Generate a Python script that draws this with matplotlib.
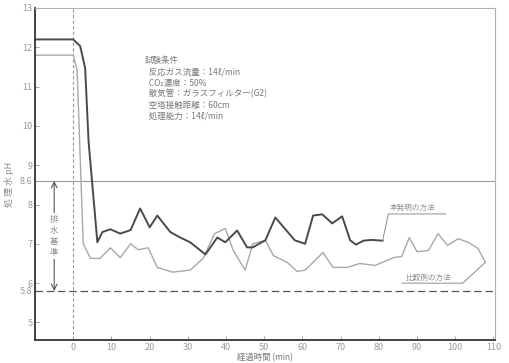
import matplotlib
matplotlib.use("Agg")
import matplotlib.pyplot as plt

plt.rcParams['font.family'] = ['Noto Sans CJK JP', 'DejaVu Sans']

# elapsed time (min) and treated-water pH for the two methods
t_inv = [-10, 0, 1.8, 3.1, 4.0, 6.3, 7.6, 9.7, 12.3, 15, 17.5, 20, 22, 25.4, 28,
         30.6, 34.6, 37.7, 39.8, 42.9, 45.5, 47, 50.3, 52.9, 58, 60.7, 62.8,
         65.2, 67.8, 70.4, 72.5, 74, 76, 78, 81]
ph_inv = [12.2, 12.2, 12.03, 11.47, 9.6, 7.04, 7.3, 7.37, 7.26, 7.35, 7.9, 7.42,
          7.72, 7.3, 7.16, 7.04, 6.73, 7.16, 7.04, 7.34, 6.91, 6.91, 7.09, 7.67,
          7.09, 7.0, 7.72, 7.75, 7.52, 7.7, 7.09, 6.98, 7.08, 7.1, 7.08]

t_cmp = [-10, 0, 1.0, 2.6, 4.5, 7, 9.7, 12.3, 15, 17, 19.6, 22, 26, 30.6, 34,
         37, 39.8, 41.9, 45, 47, 50.3, 52.4, 56, 58.6, 60.7, 65.4, 68, 71.7,
         75, 79, 81, 84, 86, 88, 90, 93, 95.5, 98, 100.8, 103.4, 106, 107.9]
ph_cmp = [11.8, 11.8, 11.4, 7.0, 6.63, 6.63, 6.9, 6.65, 7.0, 6.85, 6.9, 6.4,
          6.28, 6.33, 6.63, 7.26, 7.39, 6.83, 6.33, 7.0, 7.09, 6.7, 6.53, 6.3,
          6.33, 6.78, 6.4, 6.4, 6.5, 6.45, 6.53, 6.65, 6.68, 7.16, 6.8, 6.83,
          7.26, 6.96, 7.13, 7.04, 6.88, 6.53]

std_hi, std_lo = 8.6, 5.8
y_ticks = [5, 6, 7, 8, 9, 10, 11, 12, 13]
x_ticks = list(range(0, 111, 10))

conditions = [
    "試験条件",
    "  反応ガス流量：14ℓ/min",
    "  CO₂濃度：50%",
    "  散気管：ガラスフィルター(G2)",
    "  空塔接触距離：60cm",
    "  処理能力：14ℓ/min",
]

ink = "#4a4a4a"
pale = "#8c8c8c"

fig = plt.figure(figsize=(5.09, 3.63), dpi=100)
ax = fig.add_axes([0.069, 0.063, 0.904, 0.915])
ax.set_xlim(-10, 110.5)
ax.set_ylim(4.55, 13)

for s in ["left", "bottom"]:
    ax.spines[s].set_color("#333333")
    ax.spines[s].set_linewidth(1.3)
for s in ["top", "right"]:
    ax.spines[s].set_color("#b0b0b0")
    ax.spines[s].set_linewidth(0.8)

ax.set_xticks(x_ticks)
ax.set_yticks(y_ticks + [std_hi, std_lo])
ax.set_yticklabels([str(v) for v in y_ticks] + ["8.6", "5.8"])
ax.tick_params(axis="both", direction="in", length=3, width=0.6,
               colors="#9a9a9a", labelsize=6.5, labelcolor="#9a9a9a", pad=2)

# start line and discharge-standard limits
ax.axvline(0, color="#9a9a9a", lw=0.8, ls=(0, (3, 2)))
ax.axhline(std_hi, color="#9a9a9a", lw=0.8)
ax.axhline(std_lo, color="#555555", lw=0.9, ls=(0, (6, 3)))

ax.plot(t_cmp, ph_cmp, color="#a8a8a8", lw=1.0)
ax.plot(t_inv, ph_inv, color=ink, lw=1.4)

ax.annotate("", xy=(-5, std_hi), xytext=(-5, std_lo),
            arrowprops=dict(arrowstyle="<->", color="#555555", lw=0.8,
                            shrinkA=0, shrinkB=0))
ax.text(-5, (std_hi + std_lo) / 2, "排\n水\n基\n準", ha="center", va="center",
        fontsize=6, color=pale, linespacing=1.3,
        bbox=dict(facecolor="white", edgecolor="none", pad=1))

ax.text(18.8, 11.78, "\n".join(conditions), ha="left", va="top",
        fontsize=6.1, color="#777777", linespacing=1.3)

# series labels with underlined leaders
ax.text(83, 7.8, "本発明の方法", fontsize=5.5, color=pale, va="bottom")
ax.plot([t_inv[-1], 82.5, 97.5], [ph_inv[-1], 7.76, 7.76], color=pale, lw=0.7)
ax.text(87, 6.04, "比較例の方法", fontsize=5.5, color=pale, va="bottom")
ax.plot([86, 102, t_cmp[-1]], [6.0, 6.0, ph_cmp[-1]], color=pale, lw=0.7)

ax.set_ylabel("処 理 水 pH", fontsize=6.5, color=pale, labelpad=2)
ax.yaxis.set_label_coords(-0.045, 0.47)
ax.set_xlabel("経過時間 (min)", fontsize=6, color="#777777", labelpad=1)

fig.savefig("out.png", dpi=100)
